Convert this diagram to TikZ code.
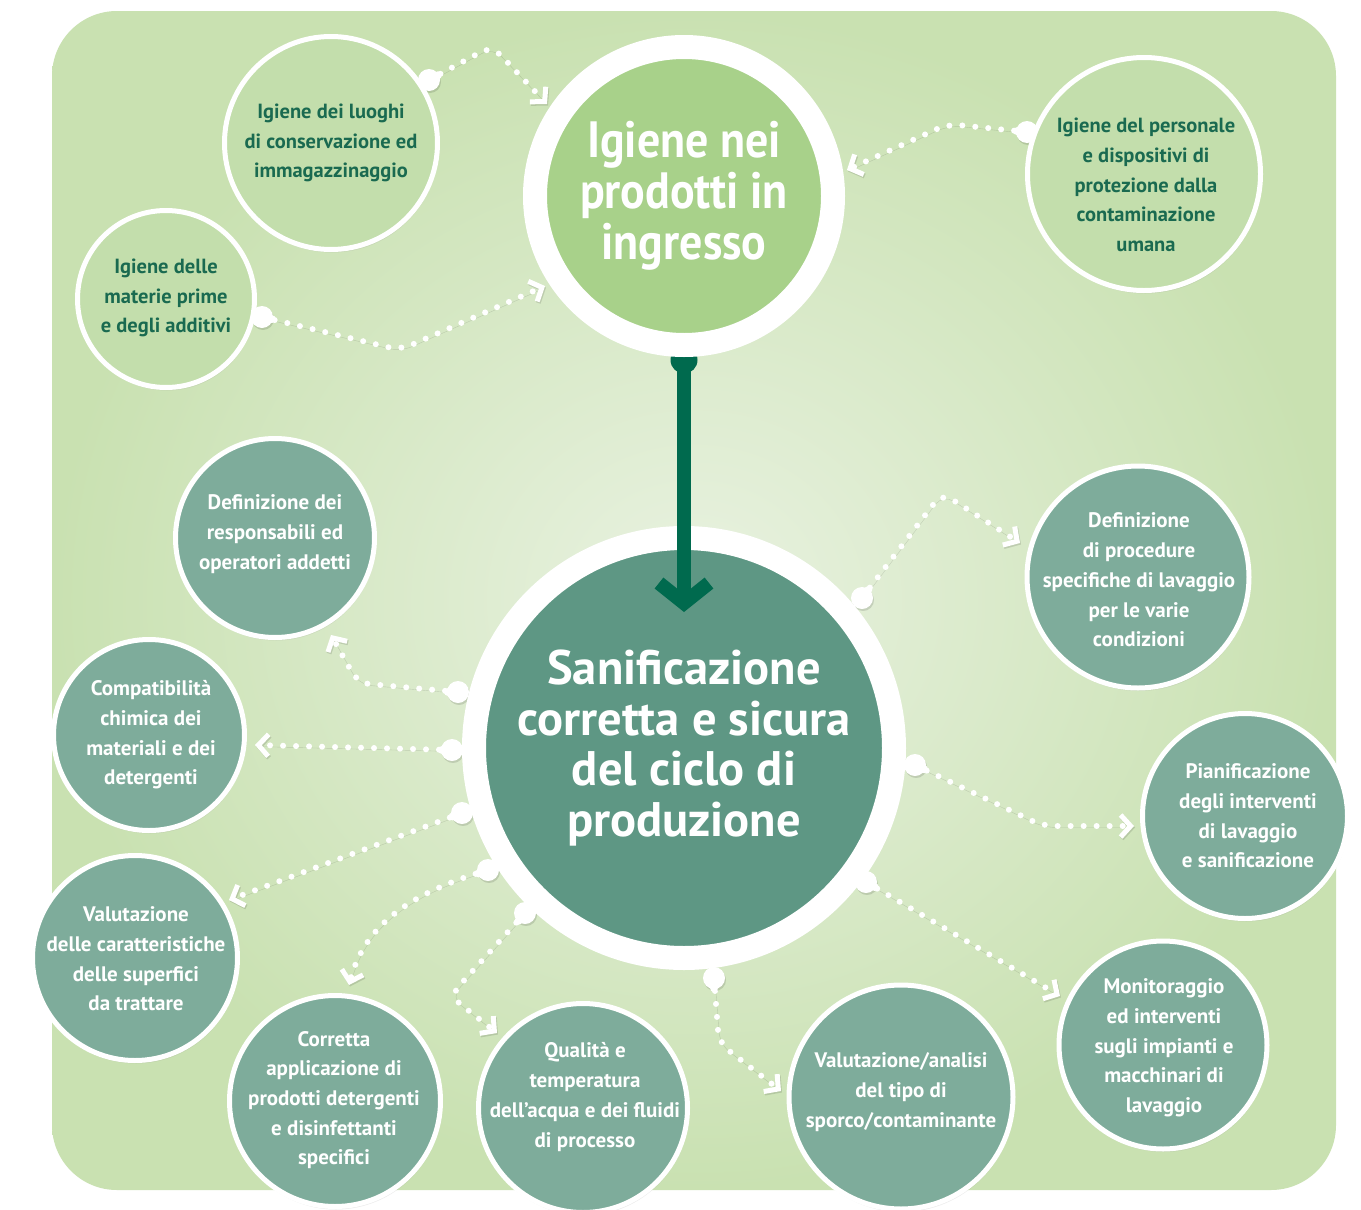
\documentclass[tikz,border=0pt]{standalone}
\usepackage{fontspec}
\setmainfont{PT Sans}
\newfontfamily\titlefont{PT Sans}[FakeStretch=0.9]
\usetikzlibrary{arrows.meta,shadows}
\definecolor{bgout}{HTML}{C9E1B1}
\definecolor{bgin}{HTML}{E9F2E1}
\definecolor{topc}{HTML}{A8D18A}
\definecolor{satlight}{HTML}{C3DEAC}
\definecolor{darktxt}{HTML}{1A6A50}
\definecolor{mainc}{HTML}{5E9784}
\definecolor{satdark}{HTML}{7EAC9B}
\definecolor{arrowc}{HTML}{006A4E}
\begin{document}
\begin{tikzpicture}[x=1pt,y=-1pt,
  sat/.style={circle, draw=white, line width=5pt, inner sep=0pt,
    drop shadow={opacity=.15, shadow xshift=1pt, shadow yshift=-3pt}},
  satL/.style={sat, fill=satlight},
  satD/.style={sat, fill=satdark},
  txtL/.style={align=center, inner sep=0pt, text=darktxt, font=\bfseries\fontsize{20.5}{29.7}\selectfont},
  txtD/.style={align=center, inner sep=0pt, text=white, font=\bfseries\fontsize{21}{29.7}\selectfont},
  dots/.style={draw=white, line width=6pt, line cap=round, dash pattern=on 0pt off 13pt,
    rounded corners=12pt,
    -{Straight Barb[length=10pt,width=22pt,line width=5pt,line cap=butt]},
    preaction={draw=black, opacity=.12, transform canvas={shift={(1pt,-1.5pt)}}}},
  bumpc/.style={fill=white}
]
\useasboundingbox (0,0) rectangle (1361,1210);
\fill[white] (0,0) rectangle (1361,1210);
\path[rounded corners=65pt, inner color=bgin, outer color=bgout] (52,11) rectangle (1336,1190);

% bump coordinates
\coordinate (bA) at (429,80);
\coordinate (bC) at (1027,132);
\coordinate (bB) at (262,317);
\coordinate (b4) at (862,598);
\coordinate (b5) at (915,765);
\coordinate (b6) at (866,882);
\coordinate (b7) at (714,978);
\coordinate (b8) at (525,913);
\coordinate (b9) at (488,870);
\coordinate (b10) at (462,813);
\coordinate (b11) at (452,750);
\coordinate (b12) at (458,692);
% arrow ends
\coordinate (e1) at (547,104);
\coordinate (e2) at (847,170);
\coordinate (e3) at (545,286);
\coordinate (e4) at (1020,543);
\coordinate (e5) at (1134,826);
\coordinate (e6) at (1060,996);
\coordinate (e7) at (781,1091);
\coordinate (e8) at (497,1033);
\coordinate (e9) at (349,985);
\coordinate (e10) at (229,900);
\coordinate (e11) at (255,745);
\coordinate (e12) at (331,635);

% connectors
\draw[dots] (bA) -- (492,46) -- (e1);
\draw[dots] (bC) -- (948,124) -- (e2);
\draw[dots] (bB) -- (400,350) -- (e3);
\draw[dots] (b4) -- (942,493) -- (e4);
\draw[dots] (b5) -- (1043,826) -- (e5);
\draw[dots] (b6) -- (e6);
\draw[dots] (b7) -- (719,1043) -- (e7);
\draw[dots] (b8) -- (450,996) -- (e8);
\draw[dots] (b9) .. controls (410,893) and (365,925) .. (e9);
\draw[dots] (b10) -- (e10);
\draw[dots] (b11) -- (e11);
\draw[dots] (b12) -- (358,683) -- (e12);

% bumps
\foreach \b/\a in {bA/28,bC/175,bB/-12,b4/52,b5/-25,b6/-30,b7/-90,b8/-130,b9/200,b10/200,b11/180,b12/180}{
  \fill[black,opacity=.12] ([shift={(1pt,-2pt)}]\b) circle (11pt);
  \fill[bumpc] (\b) circle (11pt) ([shift={(\a:10pt)}]\b) circle (4pt);
}

% satellite circles
\node[satL, minimum size=213pt] (A) at (331,143) {};
\node[satL, minimum size=177pt] (B) at (166,299) {};
\node[satL, minimum size=233pt] (C) at (1144,174) {};
\node[satD, minimum size=199pt] (D) at (275,538) {};
\node[satD, minimum size=191pt] (E) at (149,735) {};
\node[satD, minimum size=205pt] (F) at (135,958) {};
\node[satD, minimum size=211pt] (G) at (335,1101) {};
\node[satD, minimum size=209pt] (H) at (583,1108) {};
\node[satD, minimum size=224pt] (I) at (901,1097) {};
\node[satD, minimum size=208pt] (J) at (1163,1045) {};
\node[satD, minimum size=205pt] (K) at (1245,816) {};
\node[satD, minimum size=222pt] (L) at (1138,577) {};

\node[txtL] (At) at (331,143) {Igiene dei luoghi\\di conservazione ed\\immagazzinaggio};
\node[txtL] (Bt) at (166,298) {Igiene delle\\materie prime\\e degli additivi};
\node[txtL] (Ct) at (1146,185) {Igiene del personale\\e dispositivi di\\protezione dalla\\contaminazione\\umana};
\node[txtD] (Dt) at (275,534) {Definizione dei\\responsabili ed\\operatori addetti};
\node[txtD] (Et) at (151,735) {Compatibilità\\chimica dei\\materiali e dei\\detergenti};
\node[txtD] (Ft) at (136,959) {Valutazione\\delle caratteristiche\\delle superfici\\da trattare};
\node[txtD] (Gt) at (334,1100) {Corretta\\applicazione di\\prodotti detergenti\\e disinfettanti\\specifici};
\node[txtD] (Ht) at (585,1097) {Qualità e\\temperatura\\dell'acqua e dei fluidi\\di processo};
\node[txtD] (It) at (901,1092) {Valutazione/analisi\\del tipo di\\sporco/contaminante};
\node[txtD] (Jt) at (1164,1048) {Monitoraggio\\ed interventi\\sugli impianti e\\macchinari di\\lavaggio};
\node[txtD] (Kt) at (1248,816) {Pianificazione\\degli interventi\\di lavaggio\\e sanificazione};
\node[txtD] (Lt) at (1139,580) {Definizione\\di procedure\\specifiche di lavaggio\\per le varie\\condizioni};

% main circle
\node[circle, fill=mainc, draw=white, line width=24pt, minimum size=420pt, inner sep=0pt,
  drop shadow={opacity=.15, shadow xshift=1pt, shadow yshift=-4pt},
  align=center, text=white, font=\bfseries\fontsize{48.5}{50.5}\selectfont]
  (main) at (684,748) {Sanificazione\\corretta e sicura\\del ciclo di\\produzione};

% main arrow
\coordinate (as) at (684,360);
\coordinate (ae) at (684,612);
\fill[arrowc] (as) circle (13.5pt);
\draw[arrowc, line width=14pt, -{Straight Barb[length=20pt,width=50pt,line width=14pt]}] (as) -- (ae);

% top circle
\node[circle, fill=topc, draw=white, line width=24pt, minimum size=298pt, inner sep=0pt,
  drop shadow={opacity=.15, shadow xshift=1pt, shadow yshift=-4pt},
  align=center, text=white, font=\titlefont\bfseries\fontsize{51}{51}\selectfont]
  (top) at (684,196) {Igiene nei\\prodotti in\\ingresso};
\end{tikzpicture}
\end{document}
